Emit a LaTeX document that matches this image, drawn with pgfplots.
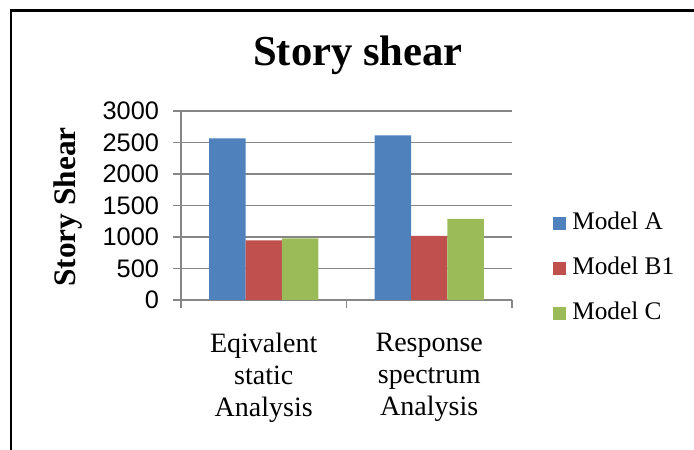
\documentclass[border=0pt]{standalone}
\usepackage{pgfplots}
\pgfplotsset{compat=1.18}
\usepackage{fontspec}
\setmainfont{Liberation Serif}
\newfontfamily\tickfont{Liberation Sans}
\definecolor{mA}{HTML}{4F81BD}
\definecolor{mB}{HTML}{C0504D}
\definecolor{mC}{HTML}{9BBB59}
\definecolor{axgray}{HTML}{868686}
\begin{document}
\begin{tikzpicture}[x=0.75pt,y=0.75pt]
\useasboundingbox (0,0) rectangle (694,450);
\draw[black,line width=1.6pt] (11,0) -- (11,439.5) -- (694,439.5);
\begin{axis}[
  at={(135.75pt,112.5pt)}, anchor=south west,
  scale only axis, width=248.25pt, height=141.75pt,
  ybar=0pt, bar width=0.2205,
  xmin=-0.5, xmax=1.5, ymin=0, ymax=3000,
  xtick={-0.5,0.5,1.5}, x tick label as interval,
  xticklabels={{Eqivalent\\static\\Analysis},{Response\\spectrum\\Analysis}},
  xticklabel style={align=center, font=\fontsize{21}{24}\selectfont, yshift=-15pt},
  ytick={0,500,1000,1500,2000,2500,3000},
  yticklabel style={font=\tickfont\fontsize{19}{21}\selectfont, xshift=-7pt},
  /pgf/number format/assume math mode=true,
  /pgf/number format/1000 sep={},
  scaled y ticks=false,
  axis x line*=bottom, axis y line*=left,
  axis line style={axgray, line width=1.1pt, -},
  tick style={axgray, line width=1.1pt},
  tick align=outside, major tick length=6pt,
  ymajorgrids, grid style={axgray, line width=1.1pt},
  title={\bfseries Story shear},
  title style={font=\fontsize{32}{36}\selectfont, at={(axis description cs:0.5347,1.196)}, anchor=base},
  ylabel={\bfseries Story Shear},
  ylabel style={font=\fontsize{23.5}{26}\selectfont, at={(axis description cs:-0.3414,0.492)}, anchor=center},
  legend image code/.code={\fill[#1,draw=none] (0pt,-4.875pt) rectangle (9.75pt,4.875pt);},
  legend style={at={(axis description cs:1.1239,0.1667)}, anchor=west, draw=none, fill=none,
    inner sep=0pt, font=\fontsize{19}{22}\selectfont, row sep=12.75pt,
    nodes={inner xsep=4.5pt, inner ysep=2pt, text height=13pt, text depth=4pt}},
  legend cell align=left,
]
\addplot[fill=mA, draw=none] coordinates {(0,2567) (1,2614)};
\addplot[fill=mB, draw=none] coordinates {(0,947) (1,1016)};
\addplot[fill=mC, draw=none] coordinates {(0,979) (1,1286)};
\legend{Model A, Model B1, Model C}
\end{axis}
\end{tikzpicture}
\end{document}
